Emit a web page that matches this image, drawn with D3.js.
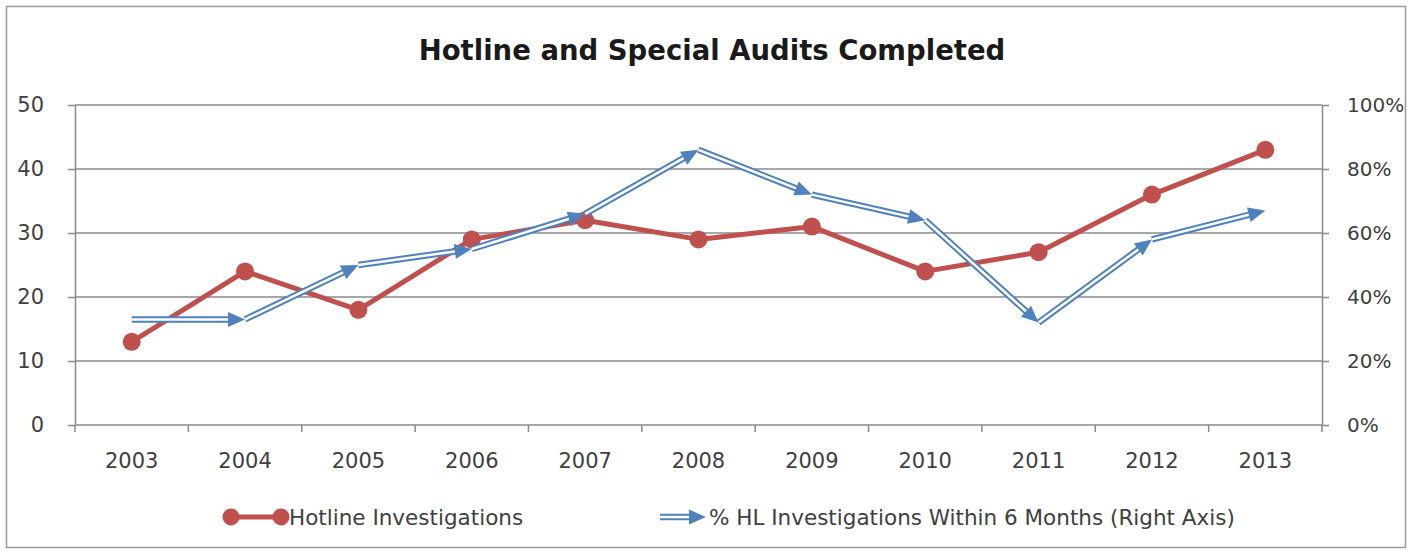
<!DOCTYPE html>
<html>
<head>
<meta charset="utf-8">
<script src="https://cdn.jsdelivr.net/npm/d3@7"></script>
<style>
  html, body { margin: 0; padding: 0; background: #fff; }
  svg { display: block; }
  text { font-family: "DejaVu Sans", sans-serif; fill: #404040; }
</style>
</head>
<body>
<script>
const years = ["2003","2004","2005","2006","2007","2008","2009","2010","2011","2012","2013"];
const hotline = [13, 24, 18, 29, 32, 29, 31, 24, 27, 36, 43];
const pctWithin6 = [0.33, 0.33, 0.50, 0.55, 0.66, 0.86, 0.72, 0.64, 0.32, 0.58, 0.67];
const leftTicks = [0, 10, 20, 30, 40, 50];
const rightTicks = [0, 0.2, 0.4, 0.6, 0.8, 1.0];
const title = "Hotline and Special Audits Completed";
const seriesNames = ["Hotline Investigations", "% HL Investigations Within 6 Months (Right Axis)"];

const W = 1412, H = 555;
const red = "#C0504D", blue = "#4F81BD", grid = "#8a8a8a";

const svg = d3.select("body").append("svg").attr("width", W).attr("height", H);

// outer border
svg.append("rect").attr("x", 6.5).attr("y", 6.5).attr("width", 1399).attr("height", 541)
  .attr("fill", "#fff").attr("stroke", "#9a9a9a").attr("stroke-width", 1.5);

// title
svg.append("text").attr("x", 712).attr("y", 60).attr("text-anchor", "middle")
  .style("font-weight", "bold").style("font-size", "27.5px").style("fill", "#1a1a1a")
  .text(title);

const x = d3.scaleBand().domain(years).range([75, 1322]).padding(0);
const cx = d => x(d) + x.bandwidth() / 2;
const yL = d3.scaleLinear().domain([0, 50]).range([425, 105]);
const yR = d3.scaleLinear().domain([0, 1]).range([425, 105]);

// gridlines
svg.append("g").selectAll("line").data(leftTicks).join("line")
  .attr("x1", 75).attr("x2", 1322)
  .attr("y1", d => yL(d)).attr("y2", d => yL(d))
  .attr("stroke", grid).attr("stroke-width", 1.5);

// left axis
const gl = svg.append("g").attr("transform", "translate(75,0)")
  .call(d3.axisLeft(yL).tickValues(leftTicks).tickSize(7).tickSizeOuter(0).tickPadding(17));
gl.select(".domain").attr("stroke", grid).attr("stroke-width", 1.5);
gl.selectAll(".tick line").attr("stroke", grid).attr("stroke-width", 1.5);
gl.selectAll(".tick text").style("font-size", "21px").style("font-family", "DejaVu Sans").attr("fill", "#404040")
  .attr("dx", -7);

// right axis
const gr = svg.append("g").attr("transform", "translate(1322,0)")
  .call(d3.axisRight(yR).tickValues(rightTicks).tickSize(7).tickSizeOuter(0).tickPadding(18).tickFormat(d3.format(".0%")));
gr.select(".domain").attr("stroke", grid).attr("stroke-width", 1.5);
gr.selectAll(".tick line").attr("stroke", grid).attr("stroke-width", 1.5);
gr.selectAll(".tick text").style("font-size", "20px").style("font-family", "DejaVu Sans").attr("fill", "#404040");

// bottom axis (band boundary ticks)
const gb = svg.append("g").attr("transform", "translate(0,425)")
  .call(d3.axisBottom(x).tickSize(0).tickPadding(28));
gb.select(".domain").remove();
gb.selectAll(".tick text").style("font-size", "21px").style("font-family", "DejaVu Sans").attr("fill", "#404040");
const bounds = years.map(d => x(d)).concat([x.range()[1]]);
svg.append("g").selectAll("line").data(bounds).join("line")
  .attr("x1", d => d).attr("x2", d => d).attr("y1", 425).attr("y2", 432)
  .attr("stroke", grid).attr("stroke-width", 1.5);

// red series
const redLine = d3.line().x((d, i) => cx(years[i])).y(d => yL(d));
svg.append("path").datum(hotline).attr("d", redLine)
  .attr("fill", "none").attr("stroke", red).attr("stroke-width", 5).attr("stroke-linejoin", "round");
svg.append("g").selectAll("circle").data(hotline).join("circle")
  .attr("cx", (d, i) => cx(years[i])).attr("cy", d => yL(d)).attr("r", 9).attr("fill", red);

// blue double-line with arrowheads per segment
function arrowSeg(g, x0, y0, x1, y1, L = 17, Wd = 15) {
  const dx = x1 - x0, dy = y1 - y0, len = Math.hypot(dx, dy);
  const ux = dx / len, uy = dy / len;
  const bx = x1 - ux * L, by = y1 - uy * L;
  const lx = x1 - ux * (L - 3), ly = y1 - uy * (L - 3);
  g.append("line").attr("x1", x0).attr("y1", y0).attr("x2", lx).attr("y2", ly)
    .attr("stroke", blue).attr("stroke-width", 6.5);
  g.append("line").attr("x1", x0).attr("y1", y0).attr("x2", lx).attr("y2", ly)
    .attr("stroke", "#fff").attr("stroke-width", 2.5);
  const nx = -uy, ny = ux;
  g.append("path")
    .attr("d", `M${x1},${y1}L${bx + nx * Wd / 2},${by + ny * Wd / 2}L${bx - nx * Wd / 2},${by - ny * Wd / 2}Z`)
    .attr("fill", blue);
}
const gBlue = svg.append("g");
for (let i = 1; i < years.length; i++) {
  arrowSeg(gBlue, cx(years[i - 1]), yR(pctWithin6[i - 1]), cx(years[i]), yR(pctWithin6[i]));
}

// legend
const lg = svg.append("g");
lg.append("line").attr("x1", 231).attr("x2", 281).attr("y1", 517).attr("y2", 517)
  .attr("stroke", red).attr("stroke-width", 5);
lg.selectAll("circle").data([231, 281]).join("circle")
  .attr("cx", d => d).attr("cy", 517).attr("r", 8.5).attr("fill", red);
lg.append("text").attr("x", 289).attr("y", 525).style("font-size", "21.5px").text(seriesNames[0]);
arrowSeg(lg, 660, 517, 706, 517);
lg.append("text").attr("x", 709).attr("y", 525).style("font-size", "21.5px").text(seriesNames[1]);
</script>
</body>
</html>
